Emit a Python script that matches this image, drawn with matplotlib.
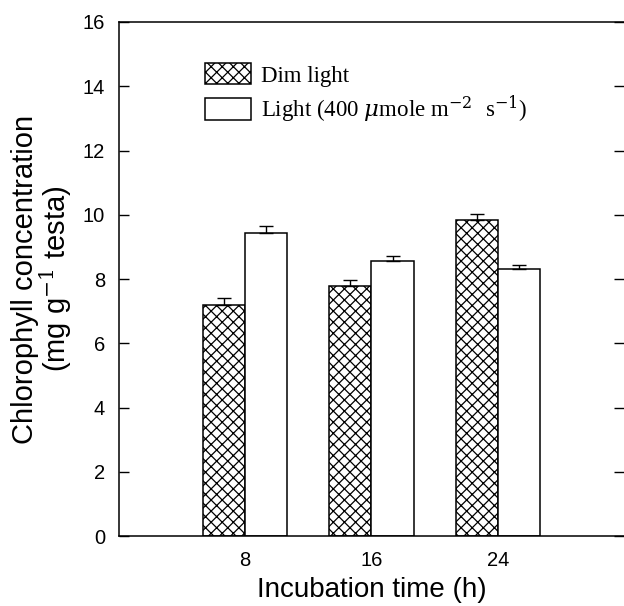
import matplotlib
matplotlib.use('Agg')
import matplotlib.pyplot as plt
import numpy as np

plt.rcParams['font.family'] = 'Liberation Sans'
plt.rcParams['hatch.linewidth'] = 0.9
plt.rcParams['mathtext.fontset'] = 'dejavuserif'

hours = [8, 16, 24]
dim_vals = [7.19, 7.79, 9.85]
dim_err = [0.22, 0.18, 0.18]
light_vals = [9.44, 8.57, 8.31]
light_err = [0.21, 0.14, 0.14]

fig = plt.figure(figsize=(6.24, 6.06), dpi=100)
ax = fig.add_axes([0.1907, 0.1155, 0.8093, 0.8482])

x = np.array(hours, dtype=float)
w = 2.67
ax.bar(x - w / 2, dim_vals, w, color='white', edgecolor='black', hatch='xxx',
       linewidth=1.1, label='Dim light',
       yerr=[np.zeros(3), dim_err], capsize=5,
       error_kw=dict(ecolor='black', elinewidth=1, capthick=1))
ax.bar(x + w / 2, light_vals, w, color='white', edgecolor='black',
       linewidth=1.1,
       label=r'Light (400 $\mu$mole m$^{-2}\ $ s$^{-1}$)',
       yerr=[np.zeros(3), light_err], capsize=5,
       error_kw=dict(ecolor='black', elinewidth=1, capthick=1))

ax.set_xlim(0, 32)
ax.set_ylim(0, 16)
ax.set_xticks(hours)
ax.set_xticklabels([str(h) for h in hours])
ax.set_yticks(range(0, 17, 2))
ax.tick_params(axis='y', direction='in', length=7, width=1, right=True,
               labelsize=14.5, pad=10, colors='black')
ax.tick_params(axis='x', length=0, labelsize=14.5, pad=11)
ax.spines['right'].set_visible(False)
for s in ['left', 'top', 'bottom']:
    ax.spines[s].set_linewidth(1.1)

ax.set_xlabel('Incubation time (h)', fontsize=20, labelpad=5)
ax.set_ylabel('Chlorophyll concentration\n(mg g$^{-1}$ testa)', fontsize=21,
              labelpad=6, linespacing=0.95)

leg = ax.legend(loc='upper left', bbox_to_anchor=(0.13, 0.96), frameon=False,
                prop={'family': 'Liberation Serif', 'size': 16.5},
                handlelength=2.0, handleheight=1.05, handletextpad=0.45,
                labelspacing=0.3)

fig.savefig('out.png', dpi=100)
